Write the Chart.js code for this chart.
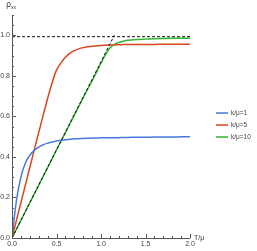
<!DOCTYPE html>
<html>
<head>
<meta charset="utf-8">
<script src="https://cdn.jsdelivr.net/npm/chart.js@4"></script>
<style>
  html, body { margin: 0; padding: 0; background: #fff; }
  #wrap { width: 257px; height: 251px; }
</style>
</head>
<body>
<div id="wrap"><canvas id="rho-chart" width="257" height="251"></canvas></div>
<script>
// T/mu sample points
const tValues = [0, 0.05, 0.1, 0.15, 0.2, 0.25, 0.3, 0.35, 0.4, 0.45, 0.5, 0.55, 0.6, 0.65, 0.7, 0.75, 0.8, 0.85, 0.9, 0.95,
  1.0, 1.05, 1.1, 1.15, 1.2, 1.25, 1.3, 1.4, 1.5, 1.6, 1.7, 1.8, 1.9, 2.0];

// rho_xx for each k/mu
const rhoK1 = [0, 0.185, 0.3, 0.37, 0.408, 0.432, 0.448, 0.46, 0.468, 0.474, 0.479, 0.482, 0.485, 0.487, 0.489, 0.49, 0.491, 0.492, 0.493, 0.493,
  0.494, 0.494, 0.495, 0.495, 0.495, 0.496, 0.496, 0.497, 0.497, 0.498, 0.498, 0.498, 0.499, 0.499];
const rhoK5 = [0, 0.087, 0.174, 0.261, 0.348, 0.435, 0.52, 0.605, 0.688, 0.765, 0.828, 0.864, 0.892, 0.911, 0.924, 0.933, 0.939, 0.943, 0.946, 0.948,
  0.95, 0.951, 0.952, 0.953, 0.953, 0.954, 0.954, 0.955, 0.955, 0.955, 0.956, 0.956, 0.956, 0.956];
const rhoK10 = [0, 0.043, 0.087, 0.13, 0.174, 0.217, 0.26, 0.304, 0.347, 0.39, 0.434, 0.477, 0.52, 0.563, 0.606, 0.649, 0.692, 0.734, 0.775, 0.818,
  0.862, 0.905, 0.937, 0.955, 0.965, 0.971, 0.975, 0.979, 0.981, 0.983, 0.984, 0.985, 0.985, 0.986];

// dashed reference lines
const refLevelT = [0, 2];
const refLevelRho = [0.993, 0.993];
const slopeT = [0, 1.15];
const slopeRho = [0, 1.0];

const seriesLabels = ["k/\u03bc=1", "k/\u03bc=5", "k/\u03bc=10"];
const seriesColors = ["#4679dc", "#d9461c", "#2fb52f"];

const xTicks = [0, 0.5, 1.0, 1.5, 2.0];
const xTickLabels = ["0.0", "0.5", "1.0", "1.5", "2.0"];
const yTicks = [0, 0.2, 0.4, 0.6, 0.8, 1.0];
const yTickLabels = ["0.0", "0.2", "0.4", "0.6", "0.8", "1.0"];

const pts = (xs, ys) => xs.map((x, i) => ({ x: x, y: ys[i] }));

// axes, inward ticks, labels and legend drawn Mathematica style
const framePlugin = {
  id: "frame",
  afterDraw(chart) {
    const ctx = chart.ctx;
    const xs = chart.scales.x, ys = chart.scales.y;
    const x0 = xs.getPixelForValue(0), y0 = ys.getPixelForValue(0);
    const xEnd = xs.getPixelForValue(2.0), yTop = ys.getPixelForValue(1.1);
    ctx.save();
    ctx.strokeStyle = "#555";
    ctx.lineWidth = 1;
    ctx.beginPath();
    ctx.moveTo(x0 + 0.5, yTop);
    ctx.lineTo(x0 + 0.5, y0 + 0.5);
    ctx.lineTo(xEnd, y0 + 0.5);
    ctx.stroke();

    ctx.beginPath();
    for (let i = 0; i <= 22; i++) {
      const py = Math.round(ys.getPixelForValue(i * 0.05)) + 0.5;
      const len = i % 4 === 0 ? 4 : 2;
      ctx.moveTo(x0, py); ctx.lineTo(x0 + len, py);
    }
    for (let i = 0; i <= 20; i++) {
      const px = Math.round(xs.getPixelForValue(i * 0.1)) + 0.5;
      const len = i % 5 === 0 ? 4 : 2;
      ctx.moveTo(px, y0); ctx.lineTo(px, y0 - len);
    }
    ctx.stroke();

    ctx.fillStyle = "#444";
    ctx.font = "7px 'Liberation Sans', Arial, sans-serif";
    ctx.textAlign = "right";
    ctx.textBaseline = "middle";
    yTicks.forEach((v, i) => ctx.fillText(yTickLabels[i], x0 - 2, ys.getPixelForValue(v)));
    ctx.textAlign = "center";
    ctx.textBaseline = "top";
    xTicks.forEach((v, i) => ctx.fillText(xTickLabels[i], xs.getPixelForValue(v), y0 + 3));

    // axis labels
    ctx.textAlign = "left";
    ctx.textBaseline = "alphabetic";
    ctx.font = "8px 'DejaVu Sans', sans-serif";
    ctx.fillText("\u03c1", x0 - 6, 7);
    ctx.font = "5px 'Liberation Sans', Arial, sans-serif";
    ctx.fillText("xx", x0 - 1, 9);
    ctx.font = "7px 'Liberation Sans', Arial, sans-serif";
    ctx.fillText("T/\u03bc", xEnd + 4, y0 + 2);

    // legend
    seriesLabels.forEach((lab, i) => {
      const ly = 113 + i * 12;
      ctx.strokeStyle = seriesColors[i];
      ctx.lineWidth = 1.5;
      ctx.beginPath();
      ctx.moveTo(216, ly); ctx.lineTo(228, ly);
      ctx.stroke();
      ctx.fillStyle = "#444";
      ctx.font = "6.5px 'Liberation Sans', Arial, sans-serif";
      ctx.textBaseline = "middle";
      ctx.fillText(lab, 231, ly);
    });
    ctx.restore();
  }
};

const curve = (label, data, color) => ({
  label: label,
  data: data,
  borderColor: color,
  borderWidth: 1.5,
  pointRadius: 0,
  fill: false,
  cubicInterpolationMode: "monotone"
});

new Chart(document.getElementById("rho-chart"), {
  type: "line",
  data: {
    datasets: [
      { data: pts(slopeT, slopeRho), borderColor: "#111", borderWidth: 1, borderDash: [3, 2], pointRadius: 0 },
      { data: pts(refLevelT, refLevelRho), borderColor: "#111", borderWidth: 1, borderDash: [3, 2], pointRadius: 0 },
      curve(seriesLabels[0], pts(tValues, rhoK1), seriesColors[0]),
      curve(seriesLabels[1], pts(tValues, rhoK5), seriesColors[1]),
      curve(seriesLabels[2], pts(tValues, rhoK10), seriesColors[2])
    ]
  },
  options: {
    responsive: false,
    animation: false,
    layout: { padding: { left: 12, right: 67, top: 15, bottom: 13 } },
    plugins: { legend: { display: false }, tooltip: { enabled: false } },
    scales: {
      x: { type: "linear", min: 0, max: 2, display: false },
      y: { type: "linear", min: 0, max: 1.1, display: false }
    }
  },
  plugins: [framePlugin]
});
</script>
</body>
</html>
